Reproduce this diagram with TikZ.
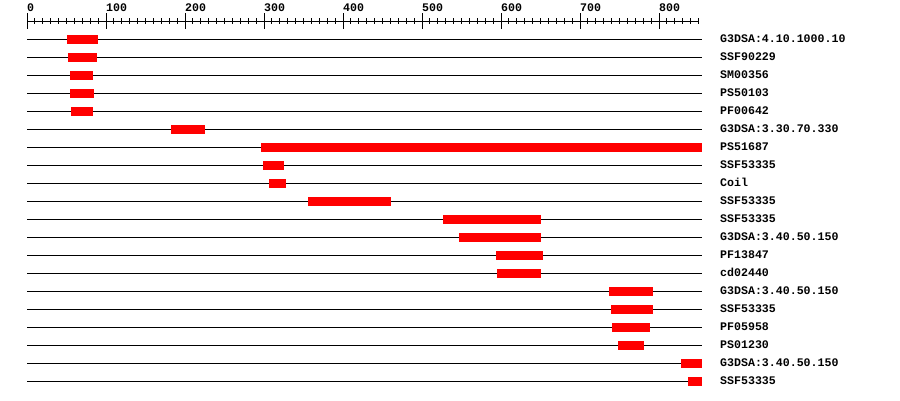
\documentclass[tikz,border=0pt]{standalone}
\usepackage{fontspec}
\newfontfamily\monob{Liberation Mono}
\begin{document}
\begin{tikzpicture}[x=1pt,y=-1pt,
  track/.style={line width=1pt,black},
  hit/.style={fill=red,draw=none},
  tickline/.style={line width=1pt,black},
  lbl/.style={font=\monob\bfseries\fontsize{11.6}{12}\selectfont,anchor=base west,inner sep=0pt},
  numlbl/.style={font=\monob\bfseries\fontsize{11.6}{12}\selectfont,anchor=base west,inner sep=0pt}]
\useasboundingbox (0,0) rectangle (900,400);
% ruler
\coordinate (r0) at (27,21.3);
\coordinate (r1) at (698.5,21.3);
\draw[tickline] (r0) -- (r1);
\foreach \i in {0,...,85} {
  \draw[tickline] (27+\i*7.9,18.3) -- (27+\i*7.9,24.3);
}
\foreach \i/\v in {0/0,1/100,2/200,3/300,4/400,5/500,6/600,7/700,8/800} {
  \draw[tickline] (27+\i*79,13.3) -- (27+\i*79,29.3);
  \node[numlbl] (n\i) at (27+\i*79,11.2) {\v};
}
% tracks
\foreach \r/\a/\b/\t in {
  1/67/97.7/G3DSA:4.10.1000.10,
  2/68/96.7/SSF90229,
  3/70/93/SM00356,
  4/70/94/PS50103,
  5/71/93/PF00642,
  6/171/205/G3DSA:3.30.70.330,
  7/261/702/PS51687,
  8/263/284/SSF53335,
  9/269/286/Coil,
  10/308/391/SSF53335,
  11/443/541/SSF53335,
  12/459/541/G3DSA:3.40.50.150,
  13/496/543/PF13847,
  14/497/541/cd02440,
  15/609/653/G3DSA:3.40.50.150,
  16/611/653/SSF53335,
  17/612/650/PF05958,
  18/618/644/PS01230,
  19/681/702/G3DSA:3.40.50.150,
  20/688/702/SSF53335} {
  \pgfmathsetmacro\yy{21.3+\r*18}
  \coordinate (s\r) at (27,\yy);
  \coordinate (e\r) at (702,\yy);
  \draw[track] (s\r) -- (e\r);
  \fill[hit] (\a,\yy-4.5) rectangle (\b,\yy+4.5);
  \node[lbl] (t\r) at (720,\yy+3.6) {\t};
}
\end{tikzpicture}
\end{document}
